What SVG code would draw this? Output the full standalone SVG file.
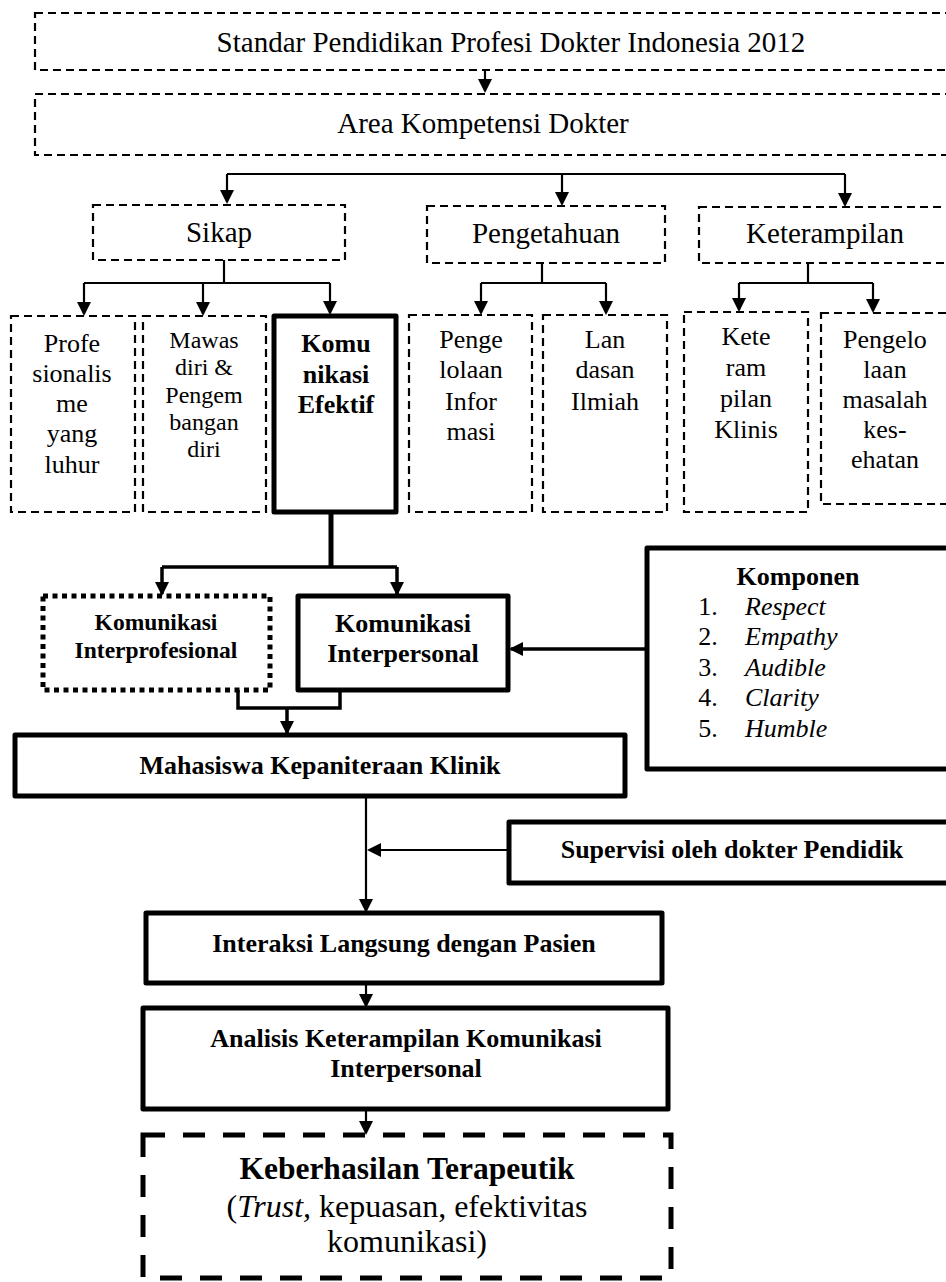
<svg xmlns="http://www.w3.org/2000/svg" width="946" height="1282" viewBox="0 0 946 1282">
<defs>
<style>
.dash{fill:#fff;stroke:#000;stroke-width:2.2;stroke-dasharray:8 5}
.thick{fill:#fff;stroke:#000;stroke-width:5;stroke-linejoin:round}
.dot{fill:#fff;stroke:#000;stroke-width:5;stroke-dasharray:5 4.5}
.bigdash{fill:#fff;stroke:#000;stroke-width:5;stroke-dasharray:22 18}
text{font-family:"Liberation Serif","Times New Roman",serif;text-anchor:middle;fill:#000}
.t29{font-size:29px}
.t26{font-size:26px}
.t24{font-size:24px}
.t32{font-size:32px}
.b{font-weight:bold}
.i{font-style:italic}
.ln{fill:none;stroke:#000;stroke-width:2.2}
.ln3{fill:none;stroke:#000;stroke-width:3.5}
.ln5{fill:none;stroke:#000;stroke-width:5}
</style>
<marker id="ah" viewBox="0 0 14 14" markerWidth="14" markerHeight="14" markerUnits="userSpaceOnUse" refX="12" refY="7" orient="auto">
<path d="M0,0 L14,7 L0,14 z" fill="#000"/>
</marker>
</defs>
<rect width="946" height="1282" fill="#fff"/>

<g id="connectors">
<path class="ln" d="M485,70 V91" marker-end="url(#ah)"/>
<path class="ln" d="M227,174 H845"/>
<path class="ln" d="M227,174 V202" marker-end="url(#ah)"/>
<path class="ln" d="M562,174 V204" marker-end="url(#ah)"/>
<path class="ln" d="M845,174 V205" marker-end="url(#ah)"/>
<path class="ln" d="M224,260 V283 M84,283 H330"/>
<path class="ln" d="M84,283 V314" marker-end="url(#ah)"/>
<path class="ln" d="M203,283 V314" marker-end="url(#ah)"/>
<path class="ln" d="M330,283 V313" marker-end="url(#ah)"/>
<path class="ln" d="M542,263 V283 M481,283 H606"/>
<path class="ln" d="M481,283 V313" marker-end="url(#ah)"/>
<path class="ln" d="M606,283 V313" marker-end="url(#ah)"/>
<path class="ln" d="M808,263 V283 M739,283 H873"/>
<path class="ln" d="M739,283 V310" marker-end="url(#ah)"/>
<path class="ln" d="M873,283 V311" marker-end="url(#ah)"/>
<path class="ln5" d="M331,512 V567"/>
<path class="ln3" d="M162,567 H397"/>
<path class="ln3" d="M162,567 V594" marker-end="url(#ah)"/>
<path class="ln3" d="M397,567 V594" marker-end="url(#ah)"/>
<path class="ln3" d="M238,690 V708 H340 V690"/>
<path class="ln3" d="M287,708 V733" marker-end="url(#ah)"/>
<path class="ln3" d="M647,649 H511" marker-end="url(#ah)"/>
<path class="ln" d="M366,796 V911" marker-end="url(#ah)"/>
<path class="ln" d="M509,850 H369" marker-end="url(#ah)"/>
<path class="ln" d="M366,983 V1006" marker-end="url(#ah)"/>
<path class="ln" d="M366,1109 V1133" marker-end="url(#ah)"/>
</g>

<g id="standar">
<rect class="dash" x="35" y="13" width="940" height="57"/>
<text class="t29" x="511" y="52">Standar Pendidikan Profesi Dokter Indonesia 2012</text>
</g>
<g id="area">
<rect class="dash" x="35" y="94" width="940" height="61"/>
<text class="t29" x="483" y="133">Area Kompetensi Dokter</text>
</g>
<g id="sikap">
<rect class="dash" x="93" y="205" width="252" height="55"/>
<text class="t29" x="219" y="242">Sikap</text>
</g>
<g id="pengetahuan">
<rect class="dash" x="427" y="206" width="238" height="57"/>
<text class="t29" x="546" y="243">Pengetahuan</text>
</g>
<g id="keterampilan">
<rect class="dash" x="699" y="207" width="270" height="56"/>
<text class="t29" x="825" y="243">Keterampilan</text>
</g>

<g id="profesionalisme">
<rect class="dash" x="11" y="316" width="124" height="196"/>
<text class="t26" x="72"><tspan x="72" y="352">Profe</tspan><tspan x="72" y="382">sionalis</tspan><tspan x="72" y="412">me</tspan><tspan x="72" y="442">yang</tspan><tspan x="72" y="473">luhur</tspan></text>
</g>
<g id="mawas">
<rect class="dash" x="143" y="316" width="123" height="196"/>
<text class="t24" x="204"><tspan x="204" y="348">Mawas</tspan><tspan x="204" y="375">diri &amp;</tspan><tspan x="204" y="403">Pengem</tspan><tspan x="204" y="430">bangan</tspan><tspan x="204" y="457">diri</tspan></text>
</g>
<g id="komunikasi-efektif">
<rect class="thick" x="274" y="316" width="122" height="196"/>
<text class="t26 b" x="336"><tspan x="336" y="352">Komu</tspan><tspan x="336" y="383">nikasi</tspan><tspan x="336" y="413">Efektif</tspan></text>
</g>
<g id="pengelolaan-informasi">
<rect class="dash" x="409" y="315" width="123" height="197"/>
<text class="t26" x="471"><tspan x="471" y="348">Penge</tspan><tspan x="471" y="378">lolaan</tspan><tspan x="471" y="410">Infor</tspan><tspan x="471" y="440">masi</tspan></text>
</g>
<g id="landasan-ilmiah">
<rect class="dash" x="543" y="315" width="124" height="197"/>
<text class="t26" x="605"><tspan x="605" y="348">Lan</tspan><tspan x="605" y="378">dasan</tspan><tspan x="605" y="410">Ilmiah</tspan></text>
</g>
<g id="keterampilan-klinis">
<rect class="dash" x="684" y="312" width="124" height="200"/>
<text class="t26" x="746"><tspan x="746" y="345">Kete</tspan><tspan x="746" y="376">ram</tspan><tspan x="746" y="407">pilan</tspan><tspan x="746" y="438">Klinis</tspan></text>
</g>
<g id="pengelolaan-masalah">
<rect class="dash" x="821" y="313" width="150" height="191"/>
<text class="t26" x="885"><tspan x="885" y="348">Pengelo</tspan><tspan x="885" y="378">laan</tspan><tspan x="885" y="408">masalah</tspan><tspan x="885" y="438">kes-</tspan><tspan x="885" y="468">ehatan</tspan></text>
</g>

<g id="interprofesional">
<rect class="dot" x="43" y="596" width="227" height="94"/>
<text class="b" style="font-size:23.5px" x="156"><tspan x="156" y="630">Komunikasi</tspan><tspan x="156" y="658">Interprofesional</tspan></text>
</g>
<g id="interpersonal">
<rect class="thick" x="298" y="596" width="210" height="94"/>
<text class="t26 b" x="403"><tspan x="403" y="632">Komunikasi</tspan><tspan x="403" y="662">Interpersonal</tspan></text>
</g>
<g id="komponen">
<rect class="thick" x="647" y="548" width="330" height="221"/>
<text class="t26 b" x="798" y="585">Komponen</text>
<g style="font-size:26px">
<text x="708" y="615">1.</text><text class="i" x="745" y="615" style="text-anchor:start">Respect</text>
<text x="708" y="645">2.</text><text class="i" x="745" y="645" style="text-anchor:start">Empathy</text>
<text x="708" y="676">3.</text><text class="i" x="745" y="676" style="text-anchor:start">Audible</text>
<text x="708" y="706">4.</text><text class="i" x="745" y="706" style="text-anchor:start">Clarity</text>
<text x="708" y="737">5.</text><text class="i" x="745" y="737" style="text-anchor:start">Humble</text>
</g>
</g>
<g id="mahasiswa">
<rect class="thick" x="15" y="735" width="610" height="61"/>
<text class="t26 b" x="320" y="774">Mahasiswa Kepaniteraan Klinik</text>
</g>
<g id="supervisi">
<rect class="thick" x="509" y="822" width="470" height="61"/>
<text class="t26 b" x="732" y="858">Supervisi oleh dokter Pendidik</text>
</g>
<g id="interaksi">
<rect class="thick" x="146" y="913" width="516" height="70"/>
<text class="t26 b" x="404" y="952">Interaksi Langsung dengan Pasien</text>
</g>
<g id="analisis">
<rect class="thick" x="143" y="1008" width="525" height="101"/>
<text class="t26 b" x="406"><tspan x="406" y="1047">Analisis Keterampilan Komunikasi</tspan><tspan x="406" y="1077">Interpersonal</tspan></text>
</g>
<g id="keberhasilan">
<rect class="bigdash" x="143" y="1135" width="528" height="143"/>
<text class="b" style="font-size:31.5px" x="407" y="1179">Keberhasilan Terapeutik</text>
<text class="t32" x="407" y="1217">(<tspan class="i">Trust,</tspan> kepuasan, efektivitas</text>
<text class="t32" x="407" y="1252">komunikasi)</text>
</g>
</svg>
